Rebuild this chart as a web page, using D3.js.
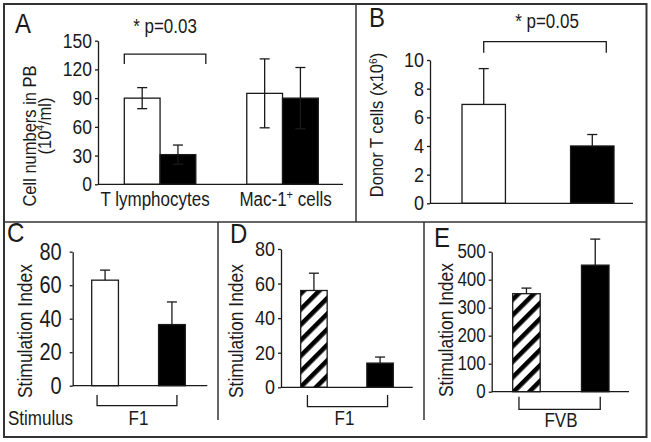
<!DOCTYPE html>
<html><head><meta charset="utf-8">
<script src="https://cdn.jsdelivr.net/npm/d3@7"></script>
<style>
body{margin:0;background:#fff}
svg{display:block}
text{font-family:"Liberation Sans",Arial,Helvetica,sans-serif;fill:#1a1a1a}
</style>
</head><body>
<svg id="c" width="651" height="442"></svg>
<script>
// ---------- DATA ----------
const catsA = ["T lymphocytes", "Mac-1+ cells"];
const seriesA = ["open", "filled"];
const valuesAOpen = [90, 95];
const errorsAOpen = [11, 36];
const valuesAFilled = [31, 90];
const errorsAFilled = [10, 32];
const ticksA = [0, 30, 60, 90, 120, 150];

const barsB = ["open", "filled"];
const valuesB = [6.9, 4.0];
const errorsB = [2.5, 0.8];
const ticksB = [0, 2, 4, 6, 8, 10];

const barsC = ["open", "filled"];
const valuesC = [63, 36.5];
const errorsC = [6, 13.5];
const ticksC = [0, 20, 40, 60, 80];

const barsD = ["hatched", "filled"];
const valuesD = [56, 14];
const errorsD = [10, 3.5];
const ticksD = [0, 20, 40, 60, 80];

const barsE = ["hatched", "filled"];
const valuesE = [350, 452];
const errorsE = [20, 93];
const ticksE = [0, 100, 200, 300, 400, 500];

// ---------- DRAW ----------
const svg = d3.select("#c");
const INK = "#1a1a1a";
const SY = 1.15; // glyph height stretch seen in the figure
const fills = {open: "#fff", filled: "#000", hatched: "url(#hatch)"};

const defs = svg.append("defs");
const pat = defs.append("pattern").attr("id", "hatch")
  .attr("patternUnits", "userSpaceOnUse").attr("width", 11).attr("height", 11)
  .attr("patternTransform", "rotate(45)");
pat.append("rect").attr("width", 11).attr("height", 11).attr("fill", "#fff");
pat.append("rect").attr("x", 0).attr("width", 4.6).attr("height", 11).attr("fill", "#000");

// frame
const frame = svg.append("g").attr("stroke", "#333").attr("fill", "none");
frame.append("rect").attr("x", 4).attr("y", 4).attr("width", 642.5).attr("height", 433).attr("stroke-width", 2);
frame.append("line").attr("x1", 4).attr("x2", 646.5).attr("y1", 222).attr("y2", 222).attr("stroke-width", 1.5);
frame.append("line").attr("x1", 356).attr("x2", 356).attr("y1", 4).attr("y2", 222).attr("stroke-width", 1.5);
frame.append("line").attr("x1", 218).attr("x2", 218).attr("y1", 222).attr("y2", 420).attr("stroke-width", 1.5);
frame.append("line").attr("x1", 424).attr("x2", 424).attr("y1", 222).attr("y2", 420).attr("stroke-width", 1.5);

function yAxis(g, y, ticks, pad, fs) {
  const ax = g.append("g").attr("transform", `translate(${y.axisX},0)`)
    .call(d3.axisLeft(y).tickValues(ticks).tickSizeInner(3).tickSizeOuter(0).tickPadding(pad));
  ax.selectAll("path,line").attr("stroke", INK).attr("stroke-width", 1.3);
  ax.selectAll("text").attr("font-size", fs).attr("font-family", "Liberation Sans, Arial, sans-serif")
    .attr("fill", INK).attr("transform", `scale(1,${SY})`);
}
function xLine(g, x0, x1, yy) {
  g.append("line").attr("x1", x0).attr("x2", x1).attr("y1", yy).attr("y2", yy)
    .attr("stroke", INK).attr("stroke-width", 1.3);
}
function errBar(g, cx, y, v, e, two) {
  const top = y(v + e), bot = two ? y(v - e) : y(v);
  g.append("line").attr("x1", cx).attr("x2", cx).attr("y1", top).attr("y2", bot).attr("stroke", INK).attr("stroke-width", 1.3);
  g.append("line").attr("x1", cx - 5).attr("x2", cx + 5).attr("y1", top).attr("y2", top).attr("stroke", INK).attr("stroke-width", 1.3);
  if (two) g.append("line").attr("x1", cx - 5).attr("x2", cx + 5).attr("y1", bot).attr("y2", bot).attr("stroke", INK).attr("stroke-width", 1.3);
}
function rotLabel(g, x, y, fs, parts) {
  const t = g.append("text").attr("transform", `translate(${x},${y}) rotate(-90) scale(1,${SY})`)
    .attr("text-anchor", "middle").attr("font-size", fs);
  parts.forEach(p => {
    const s = t.append("tspan").text(p.t);
    if (p.sup) s.attr("font-size", fs * 0.62).attr("baseline-shift", "super");
  });
  return t;
}
function label(g, x, y, txt, fs, anchor) {
  return g.append("text").attr("transform", `translate(${x},${y}) scale(1,${SY})`).attr("font-size", fs)
    .attr("text-anchor", anchor || "start").text(txt);
}
function bracketUp(g, xa, xb, yTop, yBot) {
  g.append("path").attr("d", `M${xa},${yBot}V${yTop}H${xb}V${yBot}`)
    .attr("fill", "none").attr("stroke", INK).attr("stroke-width", 1.3);
}
function bracketDown(g, xa, xb, yTop, yBot) {
  g.append("path").attr("d", `M${xa},${yTop}V${yBot}H${xb}V${yTop}`)
    .attr("fill", "none").attr("stroke", INK).attr("stroke-width", 1.3);
}

// ---- Panel A ----
(function () {
  const g = svg.append("g");
  const y = d3.scaleLinear().domain([0, 150]).range([184.3, 40.7]);
  y.axisX = 98;
  const x0 = d3.scaleBand().domain(catsA).range([124.3, 318.3]).paddingInner(0.416).paddingOuter(0);
  const x1 = d3.scaleBand().domain(seriesA).range([0, x0.bandwidth()]);
  catsA.forEach((c, i) => {
    const vals = [valuesAOpen[i], valuesAFilled[i]];
    const errs = [errorsAOpen[i], errorsAFilled[i]];
    seriesA.forEach((s, j) => {
      const bx = x0(c) + x1(s);
      g.append("rect").attr("x", bx).attr("y", y(vals[j])).attr("width", x1.bandwidth())
        .attr("height", y(0) - y(vals[j])).attr("fill", fills[s]).attr("stroke", INK).attr("stroke-width", 1.3);
      errBar(g, bx + x1.bandwidth() / 2, y, vals[j], errs[j], true);
    });
  });
  xLine(g, 98, 343, y(0));
  yAxis(g, y, ticksA, 3, 17.5);
  label(g, x0(catsA[0]) + x0.bandwidth() / 2 - 5, 206, "T lymphocytes", 17, "middle");
  const lab2 = g.append("text").attr("transform", `translate(${x0(catsA[1]) + x0.bandwidth() / 2 + 3},206) scale(1,${SY})`)
    .attr("font-size", 17).attr("text-anchor", "middle");
  lab2.append("tspan").text("Mac-1");
  lab2.append("tspan").text("+").attr("font-size", 11).attr("baseline-shift", "super");
  lab2.append("tspan").text(" cells");
  bracketUp(g, x0(catsA[0]), x0(catsA[0]) + x0.bandwidth() + 10, y(136), y(125.6));
  label(g, 165, 33, "* p=0.03", 17, "middle");
  label(g, 15, 33, "A", 24);
  rotLabel(g, 35.5, 136, 16.5, [{t: "Cell numbers in PB"}]);
  rotLabel(g, 50.5, 126, 16.5, [{t: "(10"}, {t: "4", sup: true}, {t: "/ml)"}]);
})();

// generic two-bar panel
function twoBar(opt) {
  const g = svg.append("g");
  const y = d3.scaleLinear().domain([0, opt.max]).range([opt.y0, opt.y1]);
  y.axisX = opt.axisX;
  const x = d3.scaleBand().domain(opt.bars).range(opt.band).paddingInner(0.6).paddingOuter(0);
  opt.bars.forEach((b, i) => {
    g.append("rect").attr("x", x(b)).attr("y", y(opt.values[i])).attr("width", x.bandwidth())
      .attr("height", y(0) - y(opt.values[i])).attr("fill", fills[b]).attr("stroke", INK).attr("stroke-width", 1.3);
    errBar(g, x(b) + x.bandwidth() / 2, y, opt.values[i], opt.errors[i], false);
  });
  xLine(g, opt.axisX, opt.axisEnd, y(0));
  yAxis(g, y, opt.ticks, opt.tickPad, opt.tickFs);
  return {g, x, y};
}

// ---- Panel B ----
(function () {
  const {g, x, y} = twoBar({bars: barsB, values: valuesB, errors: errorsB, ticks: ticksB, max: 10,
    y0: 203.3, y1: 60, axisX: 430, axisEnd: 633, band: [462, 614], tickPad: 3, tickFs: 18});
  const c0 = x(barsB[0]) + x.bandwidth() / 2, c1 = x(barsB[1]) + x.bandwidth() / 2;
  bracketUp(g, c0, c1 + 14, 41.7, 52.7);
  label(g, 547, 28, "* p=0.05", 17, "middle");
  label(g, 369, 27, "B", 24);
  rotLabel(g, 383, 125, 16.5, [{t: "Donor T cells (x10"}, {t: "6", sup: true}, {t: ")"}]);
})();

// ---- Panel C ----
(function () {
  const {g, x, y} = twoBar({bars: barsC, values: valuesC, errors: errorsC, ticks: ticksC, max: 80,
    y0: 385.7, y1: 251.7, axisX: 72.7, axisEnd: 207.3, band: [91.7, 185.3], tickPad: 8, tickFs: 20});
  const c0 = x(barsC[0]) + x.bandwidth() / 2, c1 = x(barsC[1]) + x.bandwidth() / 2;
  bracketDown(g, c0 - 8, c1 + 5, 395, 405.7);
  label(g, (c0 + c1) / 2, 425, "F1", 17, "middle");
  label(g, 8, 425, "Stimulus", 17);
  label(g, 7, 242, "C", 24);
  rotLabel(g, 32, 331, 17.5, [{t: "Stimulation Index"}]);
})();

// ---- Panel D ----
(function () {
  const {g, x, y} = twoBar({bars: barsD, values: valuesD, errors: errorsD, ticks: ticksD, max: 80,
    y0: 387.3, y1: 249, axisX: 281, axisEnd: 412.7, band: [300.7, 393.3], tickPad: 3, tickFs: 18});
  const c0 = x(barsD[0]) + x.bandwidth() / 2, c1 = x(barsD[1]) + x.bandwidth() / 2;
  bracketDown(g, c0 - 6.5, c1 + 7.5, 395, 406.7);
  label(g, 344.5, 425, "F1", 17, "middle");
  label(g, 230, 243, "D", 24);
  rotLabel(g, 243, 331, 17.5, [{t: "Stimulation Index"}]);
})();

// ---- Panel E ----
(function () {
  const {g, x, y} = twoBar({bars: barsE, values: valuesE, errors: errorsE, ticks: ticksE, max: 500,
    y0: 391.7, y1: 251.7, axisX: 491.7, axisEnd: 629, band: [512.7, 609], tickPad: 3, tickFs: 17});
  const c0 = x(barsE[0]) + x.bandwidth() / 2, c1 = x(barsE[1]) + x.bandwidth() / 2;
  bracketDown(g, c0 - 7.5, c1 + 5, 396.7, 409.3);
  label(g, 561, 426.7, "FVB", 17, "middle");
  label(g, 434, 246.7, "E", 24);
  rotLabel(g, 453, 330, 17.5, [{t: "Stimulation Index"}]);
})();
</script>
</body></html>
